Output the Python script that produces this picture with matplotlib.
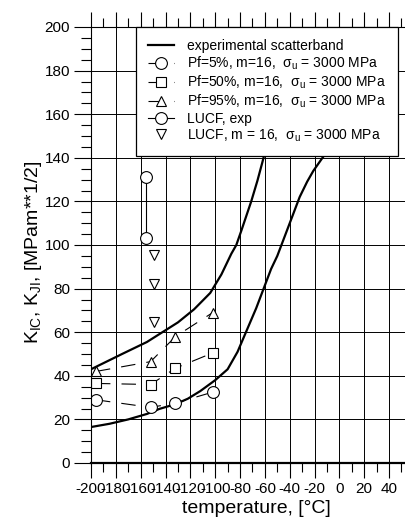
import matplotlib
matplotlib.use('Agg')
import matplotlib.pyplot as plt
from matplotlib.ticker import MultipleLocator

plt.rcParams.update({
    'font.family': ['Liberation Sans', 'DejaVu Sans'],
    'mathtext.fontset': 'custom',
    'mathtext.rm': 'Liberation Sans',
    'mathtext.it': 'Liberation Sans',
    'mathtext.bf': 'Liberation Sans:bold',
    'axes.unicode_minus': False,
})

# ---- data ----
upper_T = [-200, -175, -155, -130, -117, -104, -95, -87, -83, -79, -71, -66, -62, -58, -54, -50]
upper_K = [43, 50, 55.5, 64.5, 70.5, 78, 86.5, 96, 100, 106.5, 120, 129.5, 138, 147, 157, 166.5]

lower_T = [-200, -185, -170, -155, -145, -132, -122, -112, -100, -90, -82, -73, -67, -61, -55, -50,
           -44, -38, -32, -26, -21, -13, -5, 5, 15]
lower_K = [16.5, 18, 20, 22.5, 24.8, 27, 29.5, 33, 38, 43, 51, 63, 71, 80, 89, 95,
           104, 113, 122, 129, 134, 140.5, 146, 152, 158]

pf_T = [-196, -152, -132, -102]
pf5 = [29, 25.5, 27.5, 32.5]
pf50 = [36.5, 36, 43.5, 50.5]
pf95 = [42, 46.5, 58, 69]

lucf_exp_T = [-156, -156]
lucf_exp_K = [131, 103]

lucf_m16_T = [-149, -149, -149]
lucf_m16_K = [95.5, 82, 64.5]

labels = [
    'experimental scatterband',
    r'Pf=5%, m=16,  σ$_{\mathrm{u}}$ = 3000 MPa',
    r'Pf=50%, m=16,  σ$_{\mathrm{u}}$ = 3000 MPa',
    r'Pf=95%, m=16,  σ$_{\mathrm{u}}$ = 3000 MPa',
    'LUCF, exp',
    r'LUCF, m = 16,  σ$_{\mathrm{u}}$ = 3000 MPa',
]

fig = plt.figure(figsize=(4.06, 5.24), dpi=100)
ax = fig.add_axes([91/406, 61/524, 315/406, 436/524])

h_band, = ax.plot(upper_T, upper_K, color='k', lw=1.6, solid_joinstyle='round', label=labels[0])
ax.plot(lower_T, lower_K, color='k', lw=1.6, solid_joinstyle='round')

dash = (0, (13, 10))
mk = dict(mfc='white', mec='k', mew=0.8, color='k', lw=0.8)
h5, = ax.plot(pf_T, pf5, ls=dash, marker='o', ms=8.5, label=labels[1], **mk)
h50, = ax.plot(pf_T, pf50, ls=dash, marker='s', ms=6.5, label=labels[2], **mk)
h95, = ax.plot(pf_T, pf95, ls=dash, marker='^', ms=7.5, label=labels[3], **mk)
hexp, = ax.plot(lucf_exp_T, lucf_exp_K, ls='-', marker='o', ms=8.5, label=labels[4], **mk)
hm16, = ax.plot(lucf_m16_T, lucf_m16_K, ls='none', marker='v', ms=7.5, label=labels[5], **mk)

ax.set_xlim(-200, -200 + 315/1.242)
ax.set_ylim(0, 200)

ax.xaxis.set_major_locator(MultipleLocator(20))
ax.xaxis.set_minor_locator(MultipleLocator(10))
ax.yaxis.set_major_locator(MultipleLocator(20))
ax.yaxis.set_minor_locator(MultipleLocator(5))

ax.grid(True, which='major', color='k', lw=0.7)

ax.tick_params(axis='x', which='major', direction='out', length=11, width=0.8,
               top=True, bottom=True, labeltop=False, labelsize=11, pad=3)
ax.tick_params(axis='x', which='minor', direction='out', length=6.5, width=0.8,
               top=True, bottom=True)
ax.tick_params(axis='y', which='major', direction='out', length=12, width=0.8,
               right=False, labelsize=11, pad=3)
ax.tick_params(axis='y', which='minor', direction='out', length=7, width=0.8, right=False)

ax.spines['right'].set_visible(False)
ax.spines['top'].set_linewidth(0.8)
ax.spines['left'].set_linewidth(0.8)
ax.spines['bottom'].set_linewidth(1.6)

ax.set_xlabel('temperature, [°C]', fontsize=14)
ax.xaxis.set_label_coords(0.524, -0.085)
ax.set_ylabel(r'K$_{\mathrm{IC}}$, K$_{\mathrm{JI}}$, [MPam**1/2]', fontsize=14)
ax.yaxis.set_label_coords(-0.15, 0.484)

leg = ax.legend(handles=[h_band, h5, h50, h95, hexp, hm16], loc='upper right',
                bbox_to_anchor=(398/406, 1 - 27/524), bbox_transform=fig.transFigure,
                borderaxespad=0, fontsize=10, frameon=True, fancybox=False,
                edgecolor='k', framealpha=1, handlelength=1.9, handletextpad=0.95,
                borderpad=0.85, labelspacing=0.12, numpoints=1)
leg.get_frame().set_linewidth(0.9)

fig.savefig('out.png', dpi=100)
